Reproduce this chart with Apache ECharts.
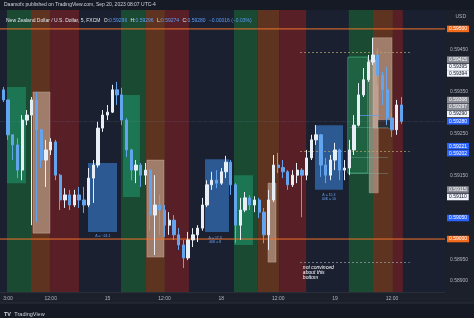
<!DOCTYPE html>
<html><head><meta charset="utf-8">
<script src="https://cdn.jsdelivr.net/npm/echarts@6/dist/echarts.min.js"></script>
<style>html,body{margin:0;padding:0;background:#1c202b;}#c{width:474px;height:318px;}</style>
</head><body><div id="c"></div>
<script>
// ---- data (trading hours from Sep 14 00:00, weekend skipped) ----
const hours = [2,3,4,5,6,7,8,9,10,11,12,13,14,15,16,17,18,19,20,21,22,23,24,25,26,27,28,29,30,31,32,33,34,35,36,37,38,39,40,41,42,43,44,45,46,47,48,49,50,51,52,53,54,55,56,57,58,59,60,61,62,63,64,65,66,67,68,69,70,71,72,73,74,75,76,77,78,79,80,81,82,83,84,85,86];
const opens = [0.59355,0.59331,0.59248,0.59224,0.59164,0.59283,0.59295,0.59331,0.59260,0.59188,0.59212,0.59231,0.59152,0.59093,0.59105,0.59081,0.59105,0.59093,0.59081,0.59145,0.59176,0.59264,0.59295,0.59302,0.59355,0.59343,0.59283,0.59212,0.59164,0.59176,0.59152,0.59164,0.59057,0.59081,0.59069,0.59033,0.59045,0.59010,0.58986,0.58955,0.58998,0.59010,0.59026,0.59081,0.59129,0.59140,0.59133,0.59160,0.59183,0.59129,0.59033,0.59069,0.59098,0.59081,0.59093,0.59064,0.59010,0.59093,0.59176,0.59170,0.59160,0.59129,0.59152,0.59164,0.59152,0.59193,0.59236,0.59248,0.59176,0.59152,0.59188,0.59212,0.59164,0.59169,0.59212,0.59271,0.59343,0.59379,0.59421,0.59438,0.59390,0.59355,0.59288,0.59260,0.59319];
const closes = [0.59331,0.59248,0.59224,0.59164,0.59283,0.59295,0.59331,0.59260,0.59188,0.59212,0.59231,0.59152,0.59093,0.59105,0.59081,0.59105,0.59093,0.59081,0.59145,0.59176,0.59264,0.59295,0.59302,0.59355,0.59343,0.59283,0.59212,0.59164,0.59176,0.59152,0.59164,0.59057,0.59081,0.59069,0.59033,0.59045,0.59010,0.58986,0.58955,0.58998,0.59010,0.59026,0.59081,0.59129,0.59140,0.59133,0.59160,0.59183,0.59129,0.59033,0.59069,0.59098,0.59081,0.59093,0.59064,0.59010,0.59093,0.59176,0.59170,0.59160,0.59129,0.59152,0.59164,0.59152,0.59193,0.59236,0.59248,0.59176,0.59152,0.59188,0.59212,0.59164,0.59169,0.59212,0.59271,0.59343,0.59379,0.59421,0.59438,0.59390,0.59355,0.59288,0.59260,0.59319,0.59280];
const lows = [0.59326,0.59236,0.59188,0.59145,0.59140,0.59271,0.59033,0.59040,0.59169,0.59124,0.59200,0.59140,0.59069,0.59074,0.59069,0.59076,0.59074,0.59062,0.59076,0.59086,0.59170,0.59255,0.59283,0.59300,0.59319,0.59271,0.59195,0.59140,0.59133,0.59124,0.59129,0.59021,0.58962,0.59010,0.59005,0.59010,0.58998,0.58974,0.58931,0.58950,0.58981,0.58993,0.59020,0.59076,0.59117,0.59121,0.59129,0.59145,0.59105,0.58990,0.58998,0.59064,0.59069,0.59064,0.59050,0.58990,0.58974,0.59088,0.59157,0.59145,0.59117,0.59124,0.59133,0.59052,0.59140,0.59188,0.59224,0.59148,0.59133,0.59140,0.59164,0.59140,0.59140,0.59152,0.59200,0.59268,0.59338,0.59374,0.59414,0.59367,0.59319,0.59271,0.59243,0.59248,0.59274];
const highs = [0.59362,0.59331,0.59248,0.59240,0.59295,0.59307,0.59338,0.59350,0.59262,0.59236,0.59240,0.59236,0.59155,0.59121,0.59117,0.59117,0.59124,0.59124,0.59169,0.59188,0.59279,0.59307,0.59319,0.59367,0.59374,0.59360,0.59288,0.59215,0.59188,0.59181,0.59181,0.59166,0.59152,0.59105,0.59081,0.59064,0.59057,0.59026,0.58998,0.59017,0.59026,0.59033,0.59098,0.59140,0.59160,0.59164,0.59169,0.59198,0.59188,0.59133,0.59098,0.59112,0.59105,0.59102,0.59098,0.59074,0.59117,0.59200,0.59205,0.59188,0.59164,0.59164,0.59181,0.59169,0.59212,0.59248,0.59271,0.59250,0.59193,0.59200,0.59229,0.59215,0.59188,0.59236,0.59295,0.59371,0.59407,0.59438,0.59479,0.59455,0.59398,0.59410,0.59300,0.59331,0.59338];

const timeTickValues = [3,12,24,36,48,60,72,84];
const timeTickLabels = ['3:00','12:00','15','12:00','18','12:00','19','12:00'];
const priceTickValues = [0.5890,0.5895,0.5915,0.5925,0.5935,0.5945];
const X_MIN = 1.31, X_MAX = 95.19, Y_MIN = 0.58874, Y_MAX = 0.59545;

// sessions [startHour, endHour]
const sessionsGreen  = [[2.78,7.85],[26.84,32.1],[50.67,55.7],[74.9,80.0]];
const sessionsOrange = [[7.85,11.85],[32.1,36.1],[55.7,60.2],[80.0,84.2]];
const sessionsRed    = [[11.85,17.97],[36.1,41.18],[60.2,65.9],[84.2,86.3]];

// drawn rectangles [h1, h2, p1, p2]
const tealBoxes = [[2.78,6.79,0.59133,0.59362],[27.26,30.84,0.59100,0.59343],[50.67,54.68,0.58986,0.59152]];
const tanBoxes  = [[8.27,11.85,0.59014,0.59350],[32.3,35.9,0.58957,0.59188],[57.85,59.54,0.58945,0.59133],[79.2,81.1,0.59110,0.59426],[80.0,84.0,0.59264,0.59479]];
const blueBoxes = [[19.87,26.0,0.59017,0.59181],[44.56,49.62,0.59017,0.59190],[67.76,73.67,0.59117,0.59271]];
const outlineBoxes = [[74.7,78.9,0.59157,0.59433]];
const darkBoxes = [[81.1,84.0,0.59264,0.59283]];

// horizontal levels
const orangeLevels = [0.59500, 0.59000];
const currentPrice = 0.59280;
const dashedLevels = [[64.6,87.8,0.59445],[64.6,87.8,0.59210],[64.6,87.8,0.58945]];
const thinLevels = [[76.8,81.5,0.59295],[75.1,83.2,0.59267],[74.7,83.2,0.59195],[74.7,83.2,0.59157]];

// price scale markers
const markerValues = [0.59500,0.59415,0.59395,0.59394,0.59308,0.59297,0.59290,0.59280,0.59221,0.59202,0.59115,0.59110,0.59050,0.59000];
const markerKinds  = ['orange','grey','white','white','grey','grey','white','blue','blue','blue','grey','white','blue','orange'];

// notes [h, p, text]
const notes = [[65.2,0.58938,'not convinced\nabout this\nbottom']];
const boxNotes = [[23.0,0.59012,'Δ = −24.1'],[46.7,0.59008,'Δ = 17.3\n40K = 8'],[70.7,0.59110,'Δ = 15.3\n40K = 10']];

// ---- styles ----
const markerNudge = [0,-5,-6,0,-9.6,-7.3,-3.2,0,0,-1,-1.2,4.2,0,0];
const kindStyle = {
  orange:{bg:'#f26b1d',fg:'#ffffff'}, grey:{bg:'#8a8d96',fg:'#ffffff'},
  white:{bg:'#f0f3fa',fg:'#131722'}, blue:{bg:'#2962ff',fg:'#ffffff'}
};
const FONT = 'Liberation Sans';

const areaOf = (list, style) => list.map(b => [{coord:[b[0],b[2]], itemStyle:style},{coord:[b[1],b[3]]}]);
const bandOf = (list, color) => list.map(s => [{coord:[s[0],Y_MIN], itemStyle:{color:color}},{coord:[s[1],Y_MAX]}]);
const fullLine = (v, label) => [{coord:[X_MIN,v], label:label},{coord:[X_MAX,v]}];

const levelSeries = orangeLevels.map(v => ({
  type:'line', z:4, silent:true, symbol:'none', animation:false,
  data:[[X_MIN,v],[X_MAX,v]],
  lineStyle:{color:'#f0732a',width:1}, itemStyle:{color:'#f0732a'}
}));

const chart = echarts.init(document.getElementById('c'), null, {renderer:'canvas'});
chart.setOption({
  animation:false,
  backgroundColor:'#1c202b',
  grid:{left:0,right:29,top:10,bottom:26,show:true,backgroundColor:'#1b2030',borderWidth:0},
  xAxis:{type:'value',min:X_MIN,max:X_MAX,
    axisLine:{show:true,lineStyle:{color:'#2a2e39'}},axisTick:{show:false},splitLine:{show:false},
    axisLabel:{customValues:timeTickValues,color:'#b2b5be',fontSize:5,fontFamily:FONT,margin:4,
      formatter:v=>{const i=timeTickValues.findIndex(t=>Math.abs(t-v)<1e-6);return i>=0?timeTickLabels[i]:'';}}},
  yAxis:{type:'value',position:'right',min:Y_MIN,max:Y_MAX,scale:true,
    axisLine:{show:false},axisTick:{show:false},splitLine:{show:false},
    axisLabel:{customValues:priceTickValues,color:'#b2b5be',fontSize:5,fontFamily:FONT,margin:5,formatter:v=>v.toFixed(5)}},
  graphic:[
    {type:'rect',shape:{x:0,y:0,width:474,height:10},style:{fill:'#161a24'},z:100},
    {type:'text',left:4,top:2.5,z:101,style:{text:'Daamofx published on TradingView.com, Sep 20, 2023 08:07 UTC-4',fill:'#d1d4dc',font:'5px '+FONT}},
    {type:'text',left:6,top:14.5,z:101,style:{
      text:'{w|New Zealand Dollar / U.S. Dollar, 5, FXCM} {w|O:}{b|0.59296} {w|H:}{b|0.59296} {w|L:}{b|0.59274} {w|C:}{b|0.59280} {b|−0.00016 (−0.03%)}',
      rich:{w:{fill:'#e0e3eb',font:'5px '+FONT},b:{fill:'#5b9cf6',font:'5px '+FONT}}}},
    {type:'text',right:8,top:14.5,z:101,style:{text:'USD',fill:'#b2b5be',font:'5px '+FONT}},
    {type:'rect',shape:{x:0,y:303,width:474,height:15},style:{fill:'#161a24'},z:100},
    {type:'line',shape:{x1:0,y1:303,x2:474,y2:303},style:{stroke:'#2a2e39',lineWidth:1},z:101},
    {type:'text',left:4,top:308,z:101,style:{text:'{l|TV} {t|TradingView}',rich:{l:{fill:'#d1d4dc',font:'bold 5.5px '+FONT},t:{fill:'#d1d4dc',font:'5.5px '+FONT}}}}
  ],
  series:[
    {type:'line',data:[],z:1,silent:true,
      markArea:{silent:true,data:[].concat(bandOf(sessionsGreen,'#1b4a33'),bandOf(sessionsOrange,'#5e3421'),bandOf(sessionsRed,'#581f27'))}},
    {type:'line',data:[],z:2,silent:true,
      markArea:{silent:true,data:[].concat(
        areaOf(tealBoxes,{color:'rgba(30,160,115,0.5)'}),
        areaOf(tanBoxes,{color:'rgba(215,185,170,0.55)',borderColor:'rgba(230,210,200,0.6)',borderWidth:0.5}),
        areaOf(blueBoxes,{color:'rgba(55,125,205,0.62)'}),
        areaOf(outlineBoxes,{color:'rgba(40,170,110,0.25)',borderColor:'#3fae78',borderWidth:0.8}),
        areaOf(darkBoxes,{color:'rgba(20,24,36,0.8)'}))}},
    ...levelSeries,
    {type:'line',data:[],z:3,silent:true,
      markLine:{silent:true,symbol:['none','none'],animation:false,
        lineStyle:{color:'rgba(130,150,180,0.4)',width:0.6,type:'dotted'},label:{show:false},
        data:[fullLine(currentPrice,{show:false})]}},
    {type:'line',data:[],z:3,silent:true,
      markLine:{silent:true,symbol:['none','none'],animation:false,label:{show:false},
        data:[].concat(
          dashedLevels.map((d,i)=>[{coord:[d[0],d[2]],lineStyle:{color:i===2?'#9aa0ad':'#b8a66e',width:0.7,type:[2,2]}},{coord:[d[1],d[2]]}]),
          thinLevels.map((d,i)=>[{coord:[d[0],d[2]],lineStyle:{color:i===0?'#5b9cf6':'rgba(120,190,170,0.5)',width:0.7,type:'solid'}},{coord:[d[1],d[2]]}])
        )},
      markPoint:{silent:true,symbol:'rect',symbolSize:0,animation:false,
        data:[].concat(
          notes.map(n=>({coord:[n[0],n[1]],label:{show:true,position:[0,0],align:'left',verticalAlign:'top',formatter:n[2],color:'#ffffff',fontSize:5,lineHeight:5,fontFamily:FONT,fontStyle:'italic'}})),
          boxNotes.map(n=>({coord:[n[0],n[1]],label:{show:true,position:[0,0],align:'center',verticalAlign:'top',formatter:n[2],color:'#6aa6f8',fontSize:3.5,lineHeight:4,fontFamily:FONT}})))}},
    {type:'line',data:[],z:6,silent:true,clip:false,
      markLine:{silent:true,symbol:['none','none'],animation:false,
        lineStyle:{color:'rgba(0,0,0,0)',width:1},
        data:markerValues.map((v,i)=>fullLine(v,
          {show:true,position:'end',distance:2,formatter:v.toFixed(5),fontSize:5,fontFamily:FONT,
           color:kindStyle[markerKinds[i]].fg,backgroundColor:kindStyle[markerKinds[i]].bg,
           padding:[1,2,0.5,2],offset:[0,markerNudge[i]]}))}},
    {type:'candlestick',z:5,barWidth:2.8,encode:{x:0,y:[1,2,3,4]},
      data:hours.map((h,i)=>[h,opens[i],closes[i],lows[i],highs[i]]),
      itemStyle:{color:'#e8eef6',color0:'#62a5ee',borderColor:'#e8eef6',borderColor0:'#62a5ee',borderWidth:1}}
  ]
});
</script></body></html>
